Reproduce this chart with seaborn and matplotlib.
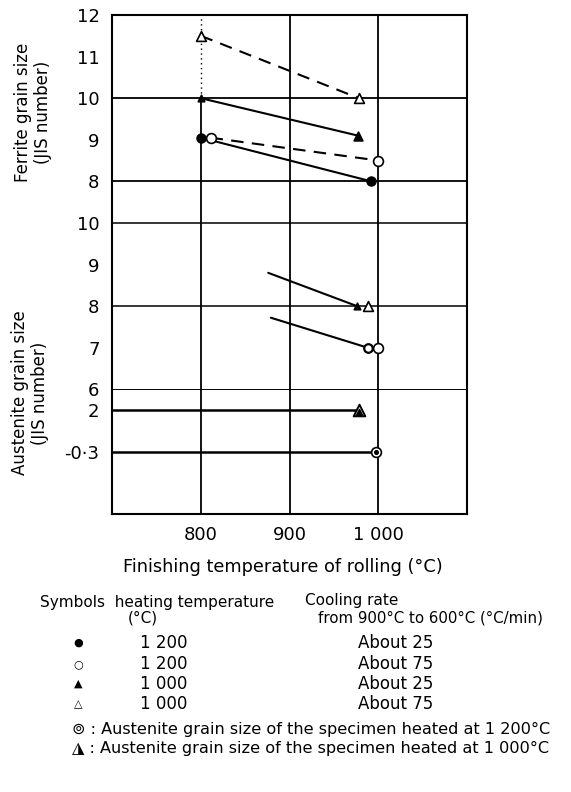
#!/usr/bin/env python3
# -*- coding: utf-8 -*-

import numpy as np
import matplotlib as mpl
import matplotlib.pyplot as plt
import seaborn as sns


# -----------------------
# data
# -----------------------
temp_ticks = [800, 900, 1000]
temp_labels = ["800", "900", "1 000"]

# ferrite grain size (JIS number), upper panel
fer_fill_circle_t = [800, 992]     # 1200 C heated, about 25 C/min
fer_fill_circle = [9.05, 8.0]
fer_open_circle_t = [811, 1000]    # 1200 C heated, about 75 C/min
fer_open_circle = [9.05, 8.5]
fer_fill_tri_t = [800, 977]        # 1000 C heated, about 25 C/min
fer_fill_tri = [10.0, 9.1]
fer_open_tri_t = [800, 978]        # 1000 C heated, about 75 C/min
fer_open_tri = [11.5, 10.0]

# austenite grain size (JIS number), lower panel
aus_tri_line_t = [876, 976]
aus_tri_line = [8.8, 8.0]
aus_tri_t = [976, 989]
aus_tri = [8.0, 8.0]
aus_circ_line_t = [879, 988]
aus_circ_line = [7.72, 7.0]
aus_circ_t = [988, 1000]
aus_circ = [7.0, 7.0]
coarse_1000_t = [700, 978]
coarse_1000 = [2.0, 2.0]
coarse_1200_t = [700, 998]
coarse_1200 = [-0.3, -0.3]

fer_ticks = [12, 11, 10, 9, 8]
fer_tick_labels = ["12", "11", "10", "9", "8"]
aus_ticks = [10, 9, 8, 7, 6, 2, -0.3]
aus_tick_labels = ["10", "9", "8", "7", "6", "2", "-0·3"]

legend_heat = ["1 200", "1 200", "1 000", "1 000"]
legend_rate = ["About 25", "About 75", "About 25", "About 75"]
legend_sym = ["●", "○", "▲", "△"]


# -----------------------
# broken axis: austenite values -> shared axis position
# -----------------------
def aus_pos(v):
    return np.interp(v, [-0.3, 2, 6, 10], [1.5, 2.5, 3, 7])


sns.set_theme(style="white")
mpl.rcParams["font.family"] = ["DejaVu Sans"]
mpl.rcParams["axes.unicode_minus"] = False
mpl.rcParams["text.color"] = "black"

W, H = 571, 792
fig = plt.figure(figsize=(W / 100, H / 100), dpi=100)
ax = fig.add_axes([112 / W, 1 - 514 / H, (467 - 112) / W, (514 - 15) / H])


def px(x, y):
    return x / W, 1 - y / H


def seg(xs, ys, dashed=False, lw=1.5):
    sns.lineplot(x=xs, y=ys, ax=ax, color="black", lw=lw, estimator=None,
                 sort=False, legend=False,
                 linestyle=(0, (6, 4)) if dashed else "-", zorder=3)


def pts(xs, ys, marker, filled, s=45, lw=1.2):
    sns.scatterplot(x=xs, y=ys, ax=ax, marker=marker, s=s,
                    color="black" if filled else "white",
                    edgecolor="black", linewidth=lw, legend=False, zorder=5)


# grid lines
for t in temp_ticks:
    if t == 800:
        ax.vlines(t, 0, 10, color="black", lw=1.3, zorder=1)
        ax.vlines(t, 10, 12, color="black", lw=1.0, linestyles=(0, (1, 2.5)), zorder=1)
    else:
        ax.vlines(t, 0, 12, color="black", lw=1.3, zorder=1)
for v in [10, 8]:
    ax.axhline(v, color="black", lw=1.3, zorder=1)
for v in [10, 8]:
    ax.axhline(aus_pos(v), color="black", lw=1.1, zorder=1)
ax.axhline(aus_pos(6), color="black", lw=0.7, zorder=1)

# ferrite
seg(fer_open_tri_t, fer_open_tri, dashed=True)
seg(fer_fill_tri_t, fer_fill_tri)
seg(fer_open_circle_t, fer_open_circle, dashed=True)
seg(fer_fill_circle_t, fer_fill_circle)
pts(fer_open_tri_t, fer_open_tri, "^", False, s=50)
pts(fer_fill_tri_t[:1], fer_fill_tri[:1], "^", True, s=22)
pts(fer_fill_tri_t[1:], fer_fill_tri[1:], "^", True, s=40)
pts(fer_open_circle_t, fer_open_circle, "o", False, s=50)
pts(fer_fill_circle_t, fer_fill_circle, "o", True, s=40)

# austenite
seg(aus_tri_line_t, aus_pos(aus_tri_line))
seg(aus_circ_line_t, aus_pos(aus_circ_line))
pts(aus_tri_t[:1], aus_pos(aus_tri[:1]), "^", True, s=22)
pts(aus_tri_t[1:], aus_pos(aus_tri[1:]), "^", False, s=50)
pts(aus_circ_t[:1], aus_pos(aus_circ[:1]), "o", False, s=38, lw=1.6)
pts(aus_circ_t[1:], aus_pos(aus_circ[1:]), "o", False, s=50)

seg(coarse_1000_t, aus_pos(coarse_1000), lw=1.8)
seg(coarse_1200_t, aus_pos(coarse_1200), lw=1.8)
pts(coarse_1000_t[1:], aus_pos(coarse_1000[1:]), "^", False, s=70, lw=1.4)
pts(coarse_1000_t[1:], aus_pos(coarse_1000[1:]) - 0.04, "^", True, s=18)
pts(coarse_1200_t[1:], aus_pos(coarse_1200[1:]), "o", False, s=50)
pts(coarse_1200_t[1:], aus_pos(coarse_1200[1:]), "o", True, s=6)

# axes
ax.set_xlim(700, 1100)
ax.set_ylim(0, 12)
ax.set_xticks(temp_ticks, temp_labels)
ypos = list(fer_ticks) + list(aus_pos(aus_ticks))
ax.set_yticks(ypos, fer_tick_labels + aus_tick_labels)
ax.set_yticks([11, 9, aus_pos(9), aus_pos(7)], minor=True)
ax.tick_params(axis="both", which="major", length=0, labelsize=13,
               colors="black", labelcolor="black")
ax.tick_params(axis="y", which="major", pad=9)
ax.tick_params(axis="x", which="major", pad=9)
ax.tick_params(axis="y", which="minor", left=True, direction="in", length=9,
               width=1.3, color="black")
for sp in ax.spines.values():
    sp.set_color("black")
    sp.set_linewidth(1.5)
ax.set_xlabel("")
ax.set_ylabel("")

fig.text(*px(283, 567), "Finishing temperature of rolling (°C)", ha="center",
         va="center", fontsize=12.8)
fig.text(*px(33, 112), "Ferrite grain size\n(JIS number)", ha="center", va="center",
         rotation=90, multialignment="center", fontsize=12, linespacing=1.1)
fig.text(*px(30, 393), "Austenite grain size\n(JIS number)", ha="center", va="center",
         rotation=90, multialignment="center", fontsize=12, linespacing=1.1)

# symbol table
fig.text(*px(40, 602), "Symbols  heating temperature", va="center", fontsize=11)
fig.text(*px(128, 618), "(°C)", va="center", fontsize=11)
fig.text(*px(305, 600), "Cooling rate", va="center", fontsize=11)
fig.text(*px(318, 618), "from 900°C to 600°C (°C/min)", va="center", fontsize=10.8)
rows_y = [643, 664, 684, 704]
for y, sym, heat, rate in zip(rows_y, legend_sym, legend_heat, legend_rate):
    fig.text(*px(78, y), sym, ha="center", va="center", fontsize=8)
    fig.text(*px(140, y), heat, va="center", fontsize=12)
    fig.text(*px(358, y), rate, va="center", fontsize=12)
fig.text(*px(72, 729), "⊚ : Austenite grain size of the specimen heated at 1 200°C",
         va="center", fontsize=11.6)
fig.text(*px(72, 748), "◮ : Austenite grain size of the specimen heated at 1 000°C",
         va="center", fontsize=11.6)

fig.savefig("out.png", dpi=100, facecolor="white")
plt.close(fig)
